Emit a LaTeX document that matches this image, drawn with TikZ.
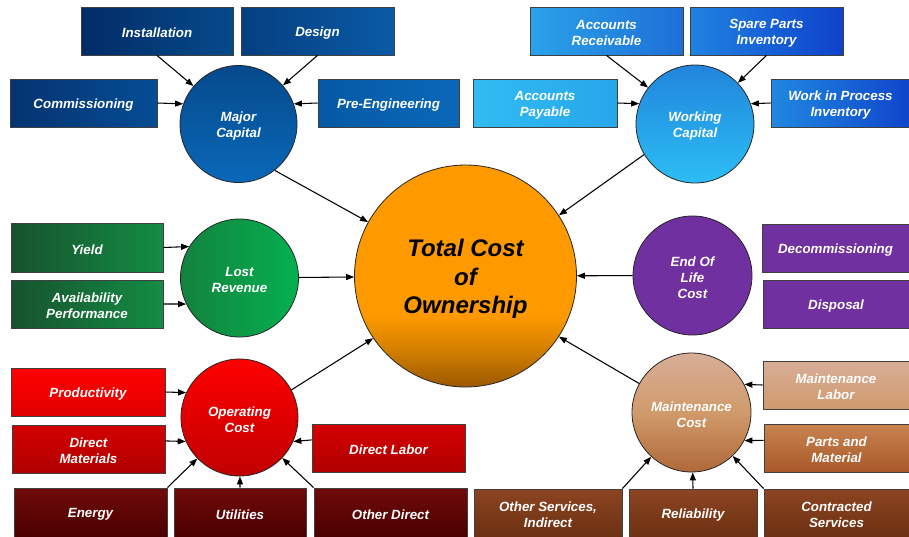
\documentclass[tikz,border=0pt]{standalone}
\usepackage{fontspec}
\setmainfont{Liberation Sans}
\usetikzlibrary{arrows.meta}
% Major capital group
\definecolor{mcA}{HTML}{032C66}\definecolor{mcB}{HTML}{054A8C}
\definecolor{mcC}{HTML}{053F80}\definecolor{mcD}{HTML}{0A5AA6}
\definecolor{mcE}{HTML}{053370}\definecolor{mcF}{HTML}{054D95}
\definecolor{mcG}{HTML}{0559A5}\definecolor{mcH}{HTML}{0A68B8}
% Working capital group
\definecolor{wcA}{HTML}{2AA2EA}\definecolor{wcB}{HTML}{1E6FD6}
\definecolor{wcC}{HTML}{1F82E0}\definecolor{wcD}{HTML}{0E42CC}
\definecolor{wcE}{HTML}{30BCF2}\definecolor{wcF}{HTML}{28A6EA}
\definecolor{wcG}{HTML}{2088E0}\definecolor{wcH}{HTML}{0F45CC}
\definecolor{wcT}{HTML}{2185DC}\definecolor{wcU}{HTML}{2CBEF4}
% Lost revenue group
\definecolor{lrA}{HTML}{17522E}\definecolor{lrB}{HTML}{148C44}
\definecolor{lrC}{HTML}{13823E}\definecolor{lrD}{HTML}{05B050}
% End of life
\definecolor{eolP}{HTML}{7030A0}
% Operating group
\definecolor{ocA}{HTML}{FF0000}\definecolor{ocB}{HTML}{E00000}
\definecolor{ocC}{HTML}{D40000}\definecolor{ocD}{HTML}{B00000}
\definecolor{ocE}{HTML}{700A0A}\definecolor{ocF}{HTML}{4A0000}
\definecolor{ocG}{HTML}{C00000}
% Maintenance group
\definecolor{mnA}{HTML}{D8AE98}\definecolor{mnB}{HTML}{CF9A6C}
\definecolor{mnC}{HTML}{C98450}\definecolor{mnD}{HTML}{A8582A}
\definecolor{mnE}{HTML}{8C4522}\definecolor{mnF}{HTML}{6C3012}
\definecolor{mnG}{HTML}{D09A6A}\definecolor{mnH}{HTML}{B0683A}
% Total
\definecolor{tcoO}{HTML}{FF9900}\definecolor{tcoM}{HTML}{D07E00}\definecolor{tcoB}{HTML}{9C5800}
\pgfdeclareverticalshading{tcoshade}{100bp}{color(0bp)=(tcoB); color(25bp)=(tcoB); color(33bp)=(tcoM); color(41bp)=(tcoO); color(100bp)=(tcoO)}
\begin{document}
\begin{tikzpicture}[x=0.75pt,y=-0.75pt,
  txt/.style={align=center, text=white, font=\bfseries\itshape\fontsize{10}{12}\selectfont},
  t/.style={label={[txt, yshift=-1.5pt]center:#1}},
  bx/.style={rectangle, draw=black!75, line width=0.6pt, inner sep=0pt, minimum height=48*0.75pt},
  bw/.style={minimum width=#1*0.75pt},
  cir/.style={circle, draw=black!85, line width=0.6pt, inner sep=0pt, minimum size=#1*1.5pt},
  arr/.style={-{Triangle[length=6pt,width=4.5pt]}, line width=0.8pt, black}]
\fill[white] (0,0) rectangle (909,536);
\useasboundingbox (0,0) rectangle (909,536);

% ---- circles
\node[cir=111, shading=tcoshade, label={[align=center, text=black, font=\bfseries\itshape\fontsize{18}{21.6}\selectfont, yshift=-2.2pt]center:Total Cost\\of\\Ownership}] (tco) at (465.5,276) {};
\node[cir=58.5, top color=mcB, bottom color=mcH, t={Major\\Capital}] (mc) at (238.5,124) {};
\node[cir=59, top color=wcT, bottom color=wcU, t={Working\\Capital}] (wc) at (695,124) {};
\node[cir=59, left color=lrC, right color=lrD, t={Lost\\Revenue}] (lr) at (239.5,278) {};
\node[cir=59.5, fill=eolP, t={End Of\\Life\\Cost}] (eol) at (692.5,275.5) {};
\node[cir=58.5, top color=ocA, bottom color=ocG, t={Operating\\Cost}] (oc) at (239.5,417.5) {};
\node[cir=59.5, top color=mnA, bottom color=mnH, middle color=mnG, t={Maintenance\\Cost}] (mn) at (691.5,412.5) {};

% ---- major capital boxes
\node[bx, bw=152, left color=mcA, right color=mcB, t={Installation}] (inst) at (157,31) {};
\node[bx, bw=153, left color=mcC, right color=mcD, t={Design}] (des) at (317.5,31) {};
\node[bx, bw=147, left color=mcE, right color=mcF, t={Commissioning}] (comm) at (83.5,103) {};
\node[bx, bw=141, left color=mcG, right color=mcH, t={Pre-Engineering}] (pre) at (388.5,103) {};

% ---- working capital boxes
\node[bx, bw=153, left color=wcA, right color=wcB, t={Accounts\\Receivable}] (arec) at (606.5,31) {};
\node[bx, bw=153, left color=wcC, right color=wcD, t={Spare Parts\\Inventory}] (sp) at (766.5,31) {};
\node[bx, bw=144, left color=wcE, right color=wcF, t={Accounts\\Payable}] (ap) at (545,103) {};
\node[bx, bw=139, left color=wcG, right color=wcH, t={Work in Process\\Inventory}] (wip) at (840.5,103) {};

% ---- lost revenue boxes
\node[bx, bw=152, minimum height=49*0.75pt, left color=lrA, right color=lrB, t={Yield}] (yield) at (87,247.5) {};
\node[bx, bw=152, left color=lrA, right color=lrB, t={Availability\\Performance}] (avail) at (87,304) {};

% ---- end of life boxes
\node[bx, bw=147, fill=eolP, t={Decommissioning}] (dec) at (835.5,248) {};
\node[bx, bw=146, fill=eolP, t={Disposal}] (disp) at (836,304) {};

% ---- operating boxes
\node[bx, bw=154, top color=ocA, bottom color=ocB, t={Productivity}] (prod) at (88,392) {};
\node[bx, bw=153, top color=ocC, bottom color=ocD, t={Direct\\Materials}] (dm) at (88.5,449) {};
\node[bx, bw=153, top color=ocC, bottom color=ocD, t={Direct Labor}] (dl) at (388.5,448) {};
\node[bx, bw=153, minimum height=49*0.75pt, top color=ocE, bottom color=ocF, t={Energy}] (energy) at (90.5,512.5) {};
\node[bx, bw=132, minimum height=49*0.75pt, top color=ocE, bottom color=ocF, t={Utilities}] (util) at (240,512.5) {};
\node[bx, bw=153, minimum height=49*0.75pt, top color=ocE, bottom color=ocF, t={Other Direct}] (od) at (390.5,512.5) {};

% ---- maintenance boxes
\node[bx, bw=146, top color=mnA, bottom color=mnB, t={Maintenance\\Labor}] (ml) at (836,385) {};
\node[bx, bw=145, top color=mnC, bottom color=mnD, t={Parts and\\Material}] (pm) at (836.5,448) {};
\node[bx, bw=148, top color=mnE, bottom color=mnF, t={Other Services,\\Indirect}] (os) at (548,513) {};
\node[bx, bw=128, top color=mnE, bottom color=mnF, t={Reliability}] (rel) at (693,513) {};
\node[bx, bw=145, top color=mnE, bottom color=mnF, t={Contracted\\Services}] (cs) at (836.5,513) {};

% ---- connectors
\draw[arr] (inst.south) -- (mc);
\draw[arr] (des.south) -- (mc);
\draw[arr] (comm.east) -- (mc.160);
\draw[arr] (pre.west) -- (mc.20);
\draw[arr] (mc.-52) -- (tco.151);

\draw[arr] (arec.south) -- (wc);
\draw[arr] (sp.south) -- (wc);
\draw[arr] (ap.east) -- (wc.160);
\draw[arr] (wip.west) -- (wc.20);
\draw[arr] (wc.211) -- (tco.33);

\draw[arr] (yield.east) -- (lr.148);
\draw[arr] (avail.east) -- (lr.206);
\draw[arr] (lr) -- (tco);
\draw[arr] (eol) -- (tco);

\draw[arr] (prod.east) -- (oc.155);
\draw[arr] (dm.6) -- (oc.204);
\draw[arr] (dl.174) -- (oc.-24);
\draw[arr] (energy.north east) -- (oc);
\draw[arr] (util.north) -- (oc);
\draw[arr] (od.north west) -- (oc);
\draw[arr] (oc.28) -- (tco.214);

\draw[arr] (ml.west) -- (mn.28);
\draw[arr] (pm.174) -- (mn.-28);
\draw[arr] (os.north east) -- (mn);
\draw[arr] (rel.north) -- (mn);
\draw[arr] (cs.north west) -- (mn);
\draw[arr] (mn.151) -- (tco.-33);
\end{tikzpicture}
\end{document}
